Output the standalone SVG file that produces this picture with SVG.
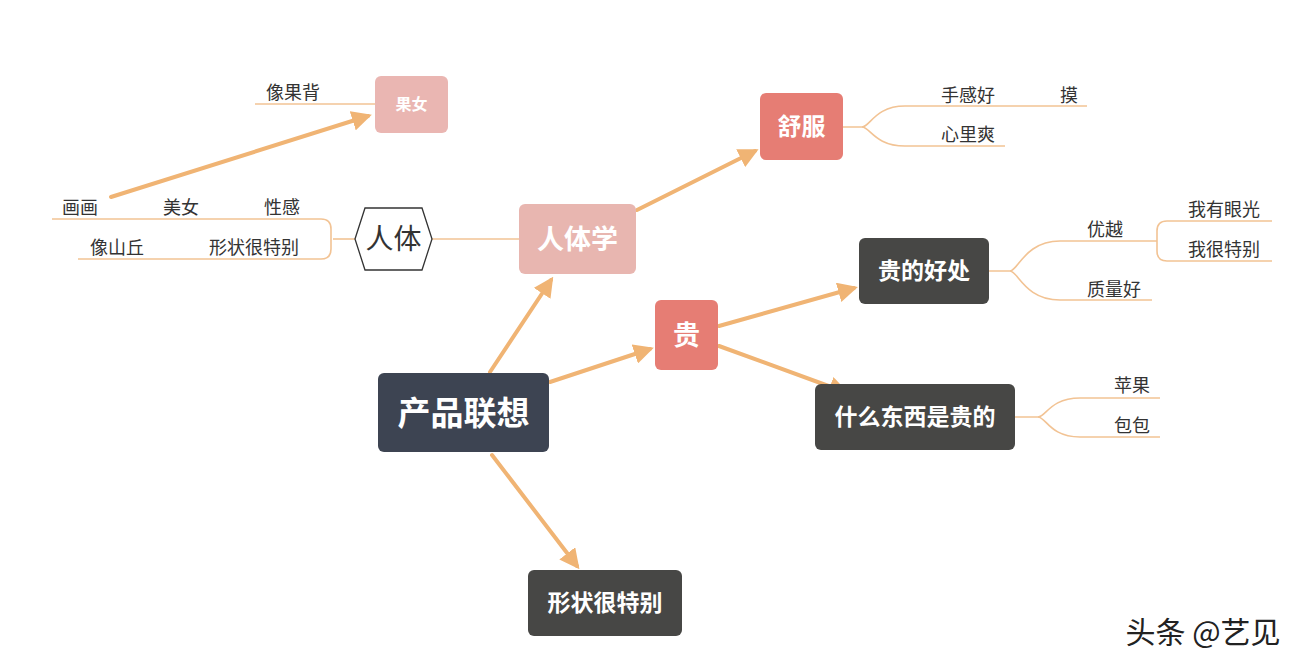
<svg xmlns="http://www.w3.org/2000/svg" width="1310" height="670" viewBox="0 0 1310 670">
<defs>
<marker id="ah" viewBox="0 0 10 10" refX="8" refY="5" markerWidth="5" markerHeight="5" orient="auto" markerUnits="strokeWidth">
<path d="M0,0 L10,5 L0,10 Z" fill="#f0b474"/>
</marker>
<style>
.arr{stroke:#f0b474;stroke-width:4;fill:none;stroke-linecap:round}
.ln{stroke:#f2c394;stroke-width:1.6;fill:none}
.lbl{font-family:"Noto Sans CJK SC",sans-serif;font-size:18px;fill:#333;text-anchor:middle}
.nt{font-family:"Noto Sans CJK SC",sans-serif;fill:#fff;text-anchor:middle;font-weight:bold}
</style>
</defs>
<rect width="1310" height="670" fill="#fff"/>
<g id="connectors">
<path class="arr" d="M490,372 L551,280" marker-end="url(#ah)"/>
<path class="arr" d="M550,382 L650,349" marker-end="url(#ah)"/>
<path class="arr" d="M492,455 L577,566" marker-end="url(#ah)"/>
<path class="arr" d="M637,210 L755,151" marker-end="url(#ah)"/>
<path class="arr" d="M719,326 L854,288" marker-end="url(#ah)"/>
<path class="arr" d="M719,346 L845,392" marker-end="url(#ah)"/>
<path class="arr" d="M111,197 L368,116" marker-end="url(#ah)"/>
<path class="ln" d="M432,239 H519"/>
<path class="ln" d="M355,239 H333"/>
<path class="ln" d="M52,219 H321 Q331,219 331,229 V249 Q331,259 321,259 H78"/>
<path class="ln" d="M255,104 H375"/>
<path class="ln" d="M843,127 H862 C870,127 875,106 905,106 H1087"/>
<path class="ln" d="M862,127 C870,127 875,146 905,146 H1005"/>
<path class="ln" d="M989,271 H1010 C1018,271 1025,241 1060,241 H1157"/>
<path class="ln" d="M1010,271 C1018,271 1025,300 1060,300 H1152"/>
<path class="ln" d="M1272,221 H1167 Q1157,221 1157,231 V251 Q1157,261 1167,261 H1272"/>
<path class="ln" d="M1015,417 H1038 C1046,417 1050,398 1080,398 H1160"/>
<path class="ln" d="M1038,417 C1046,417 1050,437 1080,437 H1160"/>
</g>
<g id="n-root"><rect x="378" y="373" width="171" height="79" rx="6" fill="#3d4452"/><text class="nt" x="463.5" y="425" font-size="33">产品联想</text></g>
<g id="n-renti-xue"><rect x="519" y="204" width="117" height="70" rx="6" fill="#e8b6b0"/><text class="nt" x="577.5" y="249" font-size="27">人体学</text></g>
<g id="n-shufu"><rect x="760" y="93" width="83" height="67" rx="6" fill="#e67d74"/><text class="nt" x="801.5" y="135" font-size="24">舒服</text></g>
<g id="n-gui"><rect x="655" y="300" width="63" height="70" rx="6" fill="#e67d74"/><text class="nt" x="686.5" y="345" font-size="27">贵</text></g>
<g id="n-haochu"><rect x="859" y="238" width="130" height="66" rx="6" fill="#474745"/><text class="nt" x="924" y="279" font-size="23">贵的好处</text></g>
<g id="n-shenme"><rect x="815" y="384" width="200" height="66" rx="6" fill="#474745"/><text class="nt" x="915" y="425" font-size="23">什么东西是贵的</text></g>
<g id="n-xingzhuang"><rect x="528" y="570" width="154" height="66" rx="6" fill="#474745"/><text class="nt" x="605" y="611" font-size="23">形状很特别</text></g>
<g id="n-guonv"><rect x="375" y="76" width="73" height="57" rx="6" fill="#eab6b2"/><text class="nt" x="411.5" y="110" font-size="16">果女</text></g>
<g id="n-renti"><polygon points="355,239 365,208 422,208 432,239 422,270 365,270" fill="#fff" stroke="#333" stroke-width="1.3"/><text x="393.5" y="249" font-family="Noto Sans CJK SC,sans-serif" font-size="28" fill="#333" text-anchor="middle">人体</text></g>
<g id="labels">
<text class="lbl" x="80" y="214">画画</text>
<text class="lbl" x="181" y="214">美女</text>
<text class="lbl" x="282" y="214">性感</text>
<text class="lbl" x="117" y="254">像山丘</text>
<text class="lbl" x="254" y="254">形状很特别</text>
<text class="lbl" x="293" y="99">像果背</text>
<text class="lbl" x="968" y="102">手感好</text>
<text class="lbl" x="1069" y="102">摸</text>
<text class="lbl" x="968" y="141">心里爽</text>
<text class="lbl" x="1105" y="236">优越</text>
<text class="lbl" x="1114" y="296">质量好</text>
<text class="lbl" x="1224" y="216">我有眼光</text>
<text class="lbl" x="1224" y="256">我很特别</text>
<text class="lbl" x="1132" y="392">苹果</text>
<text class="lbl" x="1132" y="432">包包</text>
</g>
<text x="1203" y="643" font-family="Noto Sans CJK SC,sans-serif" font-size="30" fill="#222" text-anchor="middle">头条 @艺见</text>
</svg>
